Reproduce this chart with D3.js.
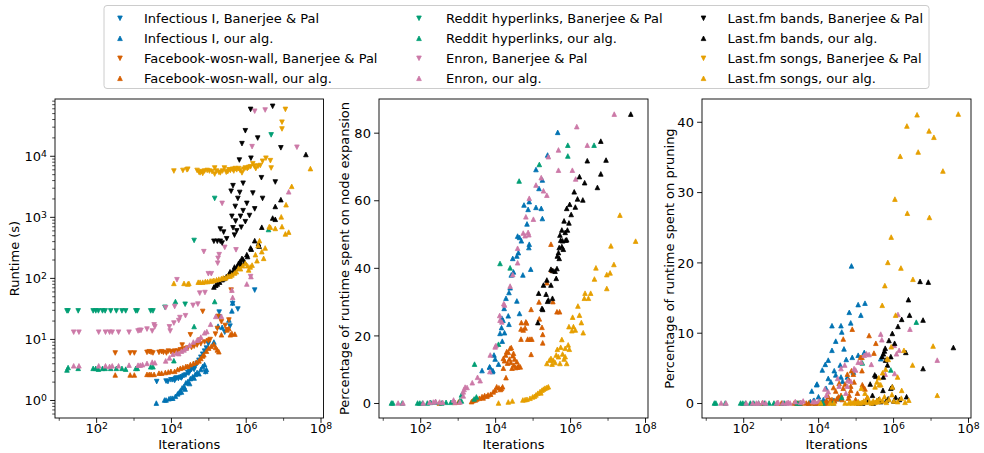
<!DOCTYPE html>
<html><head><meta charset="utf-8">
<script src="https://cdn.jsdelivr.net/npm/d3@7"></script>
<style>body{margin:0;background:#fff}svg text{font-family:"DejaVu Sans",sans-serif;}</style>
</head><body>
<svg id="chart" width="984" height="453"></svg>
<script>
// ---------------- DATA: [iterations, value] ----------------
// Panel 1: runtime (s)
const infectiousBP_runtime = [[4170,2.0],[7410,2.04],[8320,2.0],[10000,2.14],[11200,2.14],[12600,2.09],[13200,2.24],[14100,2.29],[15800,2.24],[17800,2.34],[19100,2.29],[20000,2.4],[22400,2.51],[25100,2.57],[28200,2.82],[30200,2.75],[31600,2.95],[35500,3.16],[39800,3.31],[41700,3.16],[44700,3.55],[50100,3.98],[56200,4.47],[63100,5.01],[70800,5.62],[79400,6.31],[83200,2.88],[89100,7.08],[100000,8.32],[195000,27.5],[200000,22.9],[275000,12.9],[380000,16.2],[447000,38.0],[617000,30.9],[1740000,63.1]];
const infectiousOurs_runtime = [[4070,0.89],[6760,1.0],[7410,1.0],[8910,1.05],[10000,1.07],[11200,1.07],[13200,1.15],[15100,1.26],[16600,1.32],[17800,1.41],[19100,1.35],[20000,1.58],[22400,1.66],[24000,1.51],[25100,1.91],[28200,2.0],[31600,1.86],[33100,2.24],[38000,2.4],[41700,2.29],[44700,2.63],[50100,2.82],[56200,2.69],[63100,3.16],[70800,3.55],[79400,3.8],[85100,2.95],[89100,3.16],[141000,8.91],[182000,16.2],[234000,15.5],[355000,20.4],[427000,28.8],[447000,38.9]];
const facebookBP_runtime = [[324,5.89],[813,5.89],[1050,5.89],[2290,6.03],[2630,6.17],[2950,6.03],[3310,5.89],[4790,6.03],[5620,6.17],[6310,6.03],[7590,5.89],[8510,6.31],[10000,6.17],[11200,6.03],[12600,6.31],[15100,6.31],[17800,6.61],[20000,7.94],[20900,6.76],[25100,6.92],[28200,7.08],[33100,11.7],[35500,7.24],[41700,7.59],[50100,7.94],[58900,9.55],[63100,8.32],[70800,28.2],[79400,8.91],[100000,9.33],[112000,9.77],[155000,12.0],[174000,14.8],[182000,23.4],[224000,19.1],[282000,16.6],[316000,14.1],[355000,20.4],[407000,63.1]];
const facebookOurs_runtime = [[324,2.57],[813,2.57],[1050,2.57],[2290,2.63],[2630,2.63],[2950,2.63],[3550,2.63],[4790,2.75],[5620,2.75],[7080,2.82],[8510,2.88],[10000,2.95],[12600,2.95],[15100,3.16],[17800,3.31],[20900,3.39],[25100,3.55],[28200,3.55],[33100,3.8],[39800,3.98],[47900,4.17],[56200,4.37],[63100,4.79],[70800,5.25],[75900,5.5],[89100,6.31],[102000,7.08],[120000,7.59],[141000,8.13],[158000,7.24],[174000,6.61],[191000,6.17],[224000,11.7],[316000,14.1],[355000,14.8],[389000,11.7],[427000,12.3],[513000,12.0]];
const redditBP_runtime = [[16.6,28.8],[17.8,28.8],[33.1,28.8],[83.2,28.8],[97.7,28.8],[115,28.8],[148,28.8],[174,28.8],[245,28.8],[347,28.8],[490,28.8],[617,28.8],[1150,28.8],[1260,28.8],[2880,28.8],[3310,28.8],[6920,33],[24000,37],[41700,410],[148000,2000],[4790000,22000]];
const redditOurs_runtime = [[16.6,3.1],[17.8,3.4],[33.1,3.3],[83.2,3.3],[97.7,3.3],[115,3.2],[148,3.3],[174,3.3],[245,3.3],[347,3.3],[490,3.3],[617,3.2],[1150,3.3],[1260,3.3],[2880,3.5],[3310,3.5],[12000,4.4],[13200,41],[41700,16],[148000,41],[4070000,620]];
const enronBP_runtime = [[25.1,12.9],[34.7,12.9],[117,12.9],[178,12.9],[229,12.9],[269,12.9],[398,12.9],[759,12.9],[1320,13.5],[1450,13.8],[1580,13.8],[2290,14.5],[3160,13.5],[3550,17.0],[3720,15.8],[7240,32.4],[9120,15.8],[9550,13.5],[12000,18.2],[12600,33.9],[14500,93.3],[16200,20.0],[17400,22.4],[24500,24.0],[38900,35.5],[52500,37.2],[58900,56.2],[75900,269],[81300,57.5],[100000,117],[120000,117],[178000,174],[182000,209],[195000,240],[234000,1660],[275000,316],[550000,288],[1350000,105],[1480000,14100],[1740000,53700],[3310000,56200],[23400000,13800]];
const enronOurs_runtime = [[25.1,3.63],[34.7,3.63],[117,3.63],[178,3.63],[229,3.55],[269,3.63],[398,3.63],[759,3.72],[1320,3.72],[1510,3.72],[1740,3.8],[2290,3.98],[3160,4.17],[3720,4.07],[7240,4.37],[9120,4.9],[11200,5.62],[14100,5.89],[16200,5.75],[19100,6.31],[22400,6.61],[25700,7.08],[31600,7.94],[39800,8.91],[50100,9.55],[56200,9.77],[63100,10.7],[79400,12.6],[91200,13.2],[115000,17.4],[158000,23.4],[224000,23.4],[427000,63.1],[447000,47.9],[1070000,79.4],[1380000,105],[14100000,2570]];
const bandsBP_runtime = [[1350000,57500],[5250000,64600],[977000,25700],[2090000,19500],[794000,15800],[8710000,13500],[1380000,9120],[676000,8510],[2630000,4370],[6170000,3720],[851000,3550],[457000,3240],[692000,2510],[1550000,2450],[407000,2630],[617000,2000],[2820000,2000],[1070000,1660],[525000,1480],[1740000,1350],[851000,1260],[427000,1020],[724000,1020],[1260000,1050],[537000,851],[977000,832],[457000,661],[759000,676],[575000,589],[209000,631],[257000,562],[309000,437],[141000,398],[174000,398],[209000,398],[234000,372],[501000,501]];
const bandsOurs_runtime = [[141000,70.8],[158000,75.9],[174000,79.4],[200000,85.1],[234000,93.3],[263000,97.7],[302000,105],[355000,112],[380000,126],[417000,120],[479000,135],[501000,151],[562000,145],[603000,158],[646000,174],[708000,186],[759000,166],[794000,209],[851000,200],[933000,182],[1070000,240],[1120000,224],[1350000,309],[1410000,295],[1740000,407],[2190000,363],[2290000,331],[2690000,676],[5250000,955],[6170000,912],[6170000,1480],[8710000,1910],[40700000,10500]];
const songsBP_runtime = [[12000,5620],[20900,5750],[26900,5890],[28200,6030],[50100,5750],[56200,5370],[60300,5250],[66100,5500],[70800,5130],[79400,5620],[93300,5750],[107000,5620],[126000,5500],[148000,5010],[148000,6310],[166000,5620],[191000,5370],[209000,5250],[240000,5620],[269000,6310],[302000,5370],[331000,5500],[355000,5890],[389000,5750],[447000,6030],[479000,5620],[525000,6170],[575000,5890],[646000,6170],[708000,5750],[794000,5250],[891000,6030],[977000,6310],[1100000,6170],[1200000,6460],[1350000,6610],[1550000,7410],[1700000,6760],[1860000,6170],[2140000,6760],[2450000,6920],[2820000,8130],[3470000,9120],[4570000,8320],[4790000,6310],[9330000,27500],[9330000,35500],[11500000,57500]];
const songsOurs_runtime = [[12000,81.3],[22400,81.3],[28200,79.4],[30200,81.3],[53700,85.1],[60300,85.1],[70800,85.1],[83200,87.1],[95500,87.1],[112000,89.1],[126000,89.1],[141000,91.2],[166000,93.3],[191000,95.5],[224000,97.7],[251000,100],[288000,100],[331000,107],[380000,107],[427000,112],[501000,120],[562000,126],[646000,145],[724000,141],[832000,158],[977000,174],[1120000,158],[1200000,135],[1320000,151],[1480000,162],[1820000,240],[2000000,191],[2140000,339],[2340000,407],[2690000,269],[3020000,209],[3310000,309],[4270000,692],[4570000,676],[6170000,646],[8910000,1000],[9330000,692],[11500000,525],[12000000,1580],[14100000,562],[17000000,3160],[53700000,6170]];

// Panel 2: % of runtime spent on node expansion (our alg.)
const infectiousOurs_expansion = [[4470,9.6],[7080,10.7],[7240,10.6],[8510,9.3],[8710,9.6],[9330,14.2],[10000,13.0],[12300,11.5],[13500,20.6],[14800,22.3],[15100,25.1],[15500,18.3],[16200,24.5],[17400,28.0],[17800,20.8],[19500,31.0],[22400,25.8],[23400,32.7],[23400,23.3],[25100,34.1],[26900,37.9],[29500,42.8],[30900,38.8],[38000,43.5],[38000,30.2],[39800,49.4],[41700,44.5],[44700,49.0],[44700,26.5],[50100,48.0],[55000,37.9],[58900,58.6],[70800,53.0],[75900,57.3],[79400,46.0],[81300,47.0],[81300,59.6],[89100,39.6],[123000,69.1],[123000,57.9],[148000,63.5],[170000,57.6],[182000,54.6],[182000,66.0],[251000,73.4],[468000,80.1]];
const facebookOurs_expansion = [[324,0],[832,0.2],[1050,0.3],[2340,0.4],[2570,0.7],[2950,0.9],[3240,1.2],[3800,1.4],[4470,1.9],[4790,1.5],[5250,2.2],[6030,2.0],[6460,2.4],[7590,2.6],[8910,3.3],[10000,3.8],[11000,4.8],[12600,4.5],[13800,4.0],[14800,4.3],[15800,4.8],[19500,7.5],[16600,13.2],[16600,10.3],[17800,12.5],[19100,14.2],[20400,15.2],[21400,11.8],[22400,15.0],[24000,13.0],[25100,16.2],[26300,12.0],[26900,16.4],[28200,10.3],[29500,14.0],[30900,14.7],[31600,11.2],[33100,13.0],[35500,10.5],[38000,12.2],[39800,10.6],[42700,11.0],[46800,10.7],[49000,18.9],[49000,21.9],[50100,23.8],[56200,21.6],[63100,22.2],[66100,24.0],[69200,23.7],[74100,18.9],[85100,18.9],[91200,14.4],[91200,27.7],[95500,18.9],[148000,29.9],[151000,24.9],[178000,22.4],[186000,20.3],[186000,17.8],[240000,35.6],[309000,47.0],[324000,39.3],[347000,30.0],[447000,27.0],[525000,27.0]];
const redditOurs_expansion = [[17.0,0],[18.6,0],[33.1,0],[85.1,0],[97.7,0],[115,0],[155,0],[191,0.2],[257,0.3],[372,0],[490,0.2],[661,0.2],[1150,0.7],[1260,0.6],[1260,2.4],[2750,1.2],[3160,1.8],[2820,11.5],[12300,17.4],[13500,41.3],[25100,40.0],[43700,65.7],[151000,70.6],[871000,76.3],[871000,73.1],[4370000,76.3]];
const enronOurs_expansion = [[25.7,0],[34.7,0],[120,0],[178,0.2],[224,0.3],[257,0.5],[331,0.3],[398,0.2],[776,0.9],[851,0.2],[1150,0.3],[1410,2.1],[1410,3.3],[1480,4.0],[1580,4.7],[1780,4.6],[2450,6.0],[3390,7.6],[3980,6.6],[7240,9.3],[7410,14.2],[10000,16.6],[10500,17.0],[13200,25.9],[13500,24.5],[15100,24.0],[17000,29.4],[17800,29.0],[25100,34.6],[29500,38.0],[39800,41.5],[39800,45.8],[56200,50.3],[63100,49.5],[66100,55.1],[75900,50.5],[79400,49.8],[81300,60.6],[105000,54.4],[123000,64.5],[170000,66.7],[195000,62.8],[240000,61.5],[263000,72.9],[490000,74.9],[490000,68.9],[1150000,68.9],[1410000,66.3],[1510000,81.8],[2880000,76.3],[15100000,85.5]];
const bandsOurs_expansion = [[138000,23.8],[145000,32.5],[178000,28.0],[186000,27.7],[195000,34.9],[229000,32.2],[240000,36.4],[251000,30.1],[263000,30.5],[309000,39.6],[309000,34.9],[339000,31.0],[347000,39.2],[398000,39.0],[427000,36.9],[447000,39.8],[457000,43.5],[490000,44.5],[513000,46.0],[513000,42.8],[537000,49.7],[562000,48.2],[603000,51.2],[603000,46.3],[631000,48.0],[661000,45.5],[692000,53.9],[741000,50.5],[759000,48.2],[813000,57.6],[813000,48.3],[851000,51.2],[933000,53.3],[977000,58.8],[1070000,55.8],[1290000,62.5],[1380000,58.0],[1580000,60.4],[1780000,67.0],[2190000,60.1],[2450000,65.2],[2880000,71.7],[5370000,63.8],[6610000,67.8],[6610000,77.5],[9120000,71.9],[41700000,85.5]];
const songsOurs_expansion = [[12300,0],[22400,0.3],[28800,0.6],[55000,0.9],[63100,1.0],[70800,1.1],[85100,1.4],[100000,1.8],[112000,2.0],[123000,2.4],[138000,2.9],[158000,3.4],[166000,3.0],[178000,3.8],[195000,4.1],[214000,4.4],[240000,4.6],[263000,4.8],[240000,11.7],[282000,12.7],[309000,13.2],[331000,11.5],[355000,12.7],[398000,12.0],[427000,14.2],[457000,15.9],[490000,13.7],[537000,11.7],[562000,16.5],[603000,18.8],[631000,14.5],[692000,13.0],[741000,13.7],[741000,16.2],[813000,11.7],[891000,17.2],[933000,22.6],[955000,15.9],[1120000,21.4],[1170000,25.4],[1230000,22.6],[1380000,21.6],[1620000,28.7],[1780000,26.0],[2000000,23.8],[2240000,20.8],[2400000,31.0],[2510000,32.5],[3090000,31.0],[3550000,32.5],[4470000,36.7],[4900000,40.0],[9550000,33.9],[9550000,38.0],[11700000,38.5],[12300000,46.5],[14800000,41.0],[21400000,55.6],[56200000,47.9]];

// Panel 3: % of runtime spent on pruning (our alg.)
const infectiousOurs_pruning = [[3390,0],[5620,0],[6170,0.2],[6760,1.7],[7410,0.3],[7760,0.4],[8320,0],[9120,2.6],[9330,2.7],[10200,0.9],[11000,0.2],[12900,4.7],[13800,0.5],[15500,5.5],[16200,2.1],[16600,0.3],[18600,6.1],[18600,3.5],[21900,3.0],[23400,11.0],[23400,7.5],[26300,0.4],[26900,4.6],[29500,8.8],[29500,4.0],[33100,0.6],[36300,0.7],[38900,5.4],[40700,11.0],[40700,3.7],[42700,10.1],[44700,3.1],[49000,7.7],[56200,6.2],[60300,3.7],[67600,12.9],[74100,11.4],[77600,19.5],[81300,6.5],[87100,4.4],[117000,14.0],[117000,6.8],[138000,12.5],[170000,7.2],[178000,14.2],[468000,6.3]];
const facebookOurs_pruning = [[324,0],[813,0],[1050,0],[2290,0],[2630,0],[2950,0],[3550,0],[4790,0],[5620,0],[7080,0],[8510,0],[10000,0],[12600,0],[15100,0],[17800,0],[16600,0.3],[18600,0.9],[20900,0.4],[23400,0.5],[25700,2.2],[27500,0.3],[29500,1.7],[31600,0.6],[34700,0.9],[36300,2.8],[40700,1.1],[43700,0.5],[46800,2.1],[46800,9.1],[52500,2.7],[60300,4.1],[64600,3.3],[64600,0.7],[67600,1.1],[74100,2.4],[74100,1.8],[77600,4.6],[81300,10.5],[87100,4.1],[91200,3.0],[100000,0.5],[112000,1.4],[135000,6.5],[148000,6.5],[148000,4.6],[151000,2.6],[158000,2.3],[178000,2.0],[204000,0.8],[229000,9.6],[309000,7.1],[347000,8.5]];
const redditOurs_pruning = [[17.0,0],[18.6,0],[33.1,0],[85.1,0],[97.7,0],[115,0],[155,0],[191,0],[257,0],[372,0],[490,0],[661,0],[1150,0],[1260,0],[2750,0],[3160,0],[12300,0],[13500,0],[25100,0],[42700,0.8],[151000,5.7],[871000,4.7],[4170000,11.5]];
const enronOurs_pruning = [[25.7,0],[34.7,0],[120,0],[178,0],[224,0],[257,0],[331,0.1],[398,0],[776,0],[851,0.1],[1150,0],[1410,0],[1580,0.1],[1780,0],[2450,0.2],[3390,0.1],[3980,0.3],[7240,0.2],[8320,0.2],[10500,0.3],[15100,2.0],[16600,1.1],[18600,1.6],[33100,3.5],[36300,2.4],[40700,4.9],[51300,5.4],[55000,1.4],[60300,2.4],[61700,3.2],[74100,3.1],[91200,4.9],[100000,4.7],[117000,5.8],[141000,5.8],[170000,6.8],[195000,7.0],[229000,6.9],[263000,5.5],[468000,9.8],[501000,9.0],[617000,4.1],[1070000,8.2],[1100000,4.2],[1230000,7.0],[1350000,12.6],[1450000,7.5],[2820000,10.5],[15100000,6.1]];
const bandsOurs_pruning = [[120000,0],[155000,0],[209000,0.2],[245000,2.7],[282000,1.1],[295000,0],[324000,4.0],[347000,3.8],[372000,0.3],[417000,0.5],[468000,0.2],[513000,6.6],[537000,1.8],[550000,3.7],[550000,7.0],[589000,7.4],[617000,7.8],[631000,6.1],[661000,0.4],[708000,5.4],[741000,0.6],[776000,8.9],[871000,6.6],[871000,2.1],[955000,9.9],[955000,2.3],[1050000,0.3],[1100000,8.5],[1170000,0.8],[1350000,10.9],[1480000,0.5],[1700000,11.9],[2190000,7.2],[2290000,0.9],[2570000,14.7],[2750000,12.5],[5250000,17.3],[6310000,11.8],[6310000,4.9],[8710000,17.2],[40700000,7.9]];
const songsOurs_pruning = [[11700,0],[20900,0],[26300,0],[52500,0],[66100,0],[74100,0.1],[83200,0],[93300,0.1],[105000,0],[117000,0.2],[132000,0],[148000,0.1],[166000,0.3],[186000,0.1],[234000,0.2],[263000,0],[295000,0.3],[331000,0.1],[372000,0.4],[398000,0.2],[437000,0.6],[525000,0.3],[589000,0.9],[661000,0.1],[776000,0.5],[933000,1.2],[1050000,0.3],[1320000,0.2],[1660000,0.7],[2090000,0.1],[2630000,0.4],[141000,2.1],[178000,1.4],[209000,0.8],[331000,2.3],[372000,3.0],[417000,3.6],[427000,2.6],[468000,2.6],[525000,4.3],[631000,4.8],[692000,6.3],[741000,6.2],[891000,8.0],[955000,2.3],[1320000,3.7],[1700000,1.8],[513000,13.9],[603000,16.7],[724000,20.0],[891000,23.6],[1120000,29.0],[1170000,12.5],[1550000,35.1],[1620000,19.2],[1950000,7.5],[2340000,39.4],[2400000,27.0],[3310000,5.4],[3390000,17.6],[4370000,41.0],[4680000,35.7],[9120000,38.7],[9330000,26.4],[11700000,8.1],[12300000,37.8],[15100000,1.1],[21400000,33.0],[55000000,41.1]];

const legendLabels = ["Infectious I, Banerjee & Pal","Infectious I, our alg.","Facebook-wosn-wall, Banerjee & Pal","Facebook-wosn-wall, our alg.","Reddit hyperlinks, Banerjee & Pal","Reddit hyperlinks, our alg.","Enron, Banerjee & Pal","Enron, our alg.","Last.fm bands, Banerjee & Pal","Last.fm bands, our alg.","Last.fm songs, Banerjee & Pal","Last.fm songs, our alg."];
const xTickValues = [1e2,1e4,1e6,1e8];
const xMinorTickValues = [1e1,1e3,1e5,1e7];
const runtimeTicks = [1,10,100,1000,10000];
const expansionTicks = [0,20,40,60,80];
const pruningTicks = [0,10,20,30,40];

// ---------------- STYLE ----------------
const palette = {infectious:"#0072B2",facebook:"#D55E00",reddit:"#009E73",enron:"#CC79A7",bands:"#000000",songs:"#E69F00"};
const series = [
  {label:legendLabels[0], c:"infectious", shape:"down", runtime:infectiousBP_runtime},
  {label:legendLabels[1], c:"infectious", shape:"up", runtime:infectiousOurs_runtime, expansion:infectiousOurs_expansion, pruning:infectiousOurs_pruning},
  {label:legendLabels[2], c:"facebook", shape:"down", runtime:facebookBP_runtime},
  {label:legendLabels[3], c:"facebook", shape:"up", runtime:facebookOurs_runtime, expansion:facebookOurs_expansion, pruning:facebookOurs_pruning},
  {label:legendLabels[4], c:"reddit", shape:"down", runtime:redditBP_runtime},
  {label:legendLabels[5], c:"reddit", shape:"up", runtime:redditOurs_runtime, expansion:redditOurs_expansion, pruning:redditOurs_pruning},
  {label:legendLabels[6], c:"enron", shape:"down", runtime:enronBP_runtime},
  {label:legendLabels[7], c:"enron", shape:"up", runtime:enronOurs_runtime, expansion:enronOurs_expansion, pruning:enronOurs_pruning},
  {label:legendLabels[8], c:"bands", shape:"down", runtime:bandsBP_runtime},
  {label:legendLabels[9], c:"bands", shape:"up", runtime:bandsOurs_runtime, expansion:bandsOurs_expansion, pruning:bandsOurs_pruning},
  {label:legendLabels[10], c:"songs", shape:"down", runtime:songsBP_runtime},
  {label:legendLabels[11], c:"songs", shape:"up", runtime:songsOurs_runtime, expansion:songsOurs_expansion, pruning:songsOurs_pruning}
];
const MS = 2.3;
function tri(shape){ return shape==="up" ? `M0,${-MS}L${MS},${MS}L${-MS},${MS}Z` : `M0,${MS}L${MS},${-MS}L${-MS},${-MS}Z`; }

const svg = d3.select("#chart");
const plotTop = 99, plotBottom = 418;

const panels = [
  {x0:55, x1:323.5, key:"runtime", y:d3.scaleLog().domain([Math.pow(10,-0.295),Math.pow(10,4.93)]).range([plotBottom,plotTop]), ticks:runtimeTicks, log:true, label:"Runtime (s)", labelX:19},
  {x0:379, x1:648, key:"expansion", y:d3.scaleLinear().domain([-4.44,89.97]).range([plotBottom,plotTop]), ticks:expansionTicks, log:false, label:"Percentage of runtime spent on node expansion", labelX:349},
  {x0:702, x1:971, key:"pruning", y:d3.scaleLinear().domain([-2.13,43.24]).range([plotBottom,plotTop]), ticks:pruningTicks, log:false, label:"Percentage of runtime spent on pruning", labelX:673.5}
];

function powLabel(sel, d){
  const e = Math.round(Math.log10(d));
  sel.text(null);
  sel.append("tspan").text("10");
  sel.append("tspan").attr("dy","-0.42em").attr("font-size","9.3px").text(String(e));
}

panels.forEach(p=>{
  const x = d3.scaleLog().domain([Math.pow(10,0.9),Math.pow(10,8.08)]).range([p.x0,p.x1]);
  const g = svg.append("g");
  series.forEach(s=>{
    const data = s[p.key];
    if(!data) return;
    g.append("g").selectAll("path").data(data).join("path")
      .attr("transform", d=>`translate(${x(d[0])},${p.y(d[1])})`)
      .attr("d", tri(s.shape))
      .attr("fill", palette[s.c]).attr("stroke", palette[s.c]).attr("stroke-width",0.8);
  });
  const gx = svg.append("g").attr("transform",`translate(0,${plotBottom})`)
    .call(d3.axisBottom(x).tickValues(xTickValues).tickSize(4.9).tickSizeOuter(0));
  gx.select(".domain").remove();
  gx.selectAll(".tick line").attr("stroke","#000").attr("stroke-width",0.9);
  gx.selectAll(".tick text").attr("y",15).attr("dy",0).attr("font-size","13px").attr("fill","#000")
    .each(function(d){ powLabel(d3.select(this), d); });
  const gxm = svg.append("g").attr("transform",`translate(0,${plotBottom})`)
    .call(d3.axisBottom(x).tickValues(xMinorTickValues).tickSize(2.8).tickFormat(()=>""));
  gxm.select(".domain").remove();
  gxm.selectAll(".tick line").attr("stroke","#000").attr("stroke-width",0.7);
  const gy = svg.append("g").attr("transform",`translate(${p.x0},0)`)
    .call(d3.axisLeft(p.y).tickValues(p.ticks).tickSize(4.9).tickPadding(3.2).tickSizeOuter(0));
  gy.select(".domain").remove();
  gy.selectAll(".tick line").attr("stroke","#000").attr("stroke-width",0.9);
  gy.selectAll(".tick text").attr("font-size","13px").attr("fill","#000").attr("dy","0.36em");
  if(p.log){
    gy.selectAll(".tick text").each(function(d){ powLabel(d3.select(this), d); });
    const minors = [];
    const dom = p.y.domain();
    [-1,0,1,2,3,4].forEach(k=>{ for(let m=2;m<=9;m++){ const v=m*Math.pow(10,k); if(v>dom[0] && v<dom[1]) minors.push(v);} });
    const gym = svg.append("g").attr("transform",`translate(${p.x0},0)`)
      .call(d3.axisLeft(p.y).tickValues(minors).tickSize(2.8).tickFormat(()=>""));
    gym.select(".domain").remove();
    gym.selectAll(".tick line").attr("stroke","#000").attr("stroke-width",0.7);
  }
  svg.selectAll(".tick text").attr("font-family",'"DejaVu Sans", sans-serif');
  svg.append("rect").attr("x",p.x0).attr("y",plotTop).attr("width",p.x1-p.x0).attr("height",plotBottom-plotTop)
    .attr("fill","none").attr("stroke","#000").attr("stroke-width",0.9);
  svg.append("text").attr("x",(p.x0+p.x1)/2).attr("y",448.5).attr("text-anchor","middle").attr("font-size","13px").text("Iterations");
  svg.append("text").attr("transform",`translate(${p.labelX},${(plotTop+plotBottom)/2}) rotate(-90)`).attr("text-anchor","middle").attr("font-size","13px").text(p.label);
});

// legend
const lg = svg.append("g");
lg.append("rect").attr("x",104).attr("y",5.5).attr("width",825).attr("height",83).attr("rx",3).attr("ry",3)
  .attr("fill","#fff").attr("fill-opacity",0.8).attr("stroke","#cccccc").attr("stroke-width",1);
const colMarkerX = [120, 419, 703.5];
const colTextX = [144, 446, 727.5];
series.forEach((s,i)=>{
  const col = Math.floor(i/4), row = i%4;
  const cy = 18.3 + row*20;
  lg.append("path").attr("transform",`translate(${colMarkerX[col]},${cy})`).attr("d",tri(s.shape))
    .attr("fill",palette[s.c]).attr("stroke",palette[s.c]).attr("stroke-width",0.8);
  lg.append("text").attr("x",colTextX[col]).attr("y",cy+4.6).attr("font-size","13px").text(s.label);
});
</script>
</body></html>
